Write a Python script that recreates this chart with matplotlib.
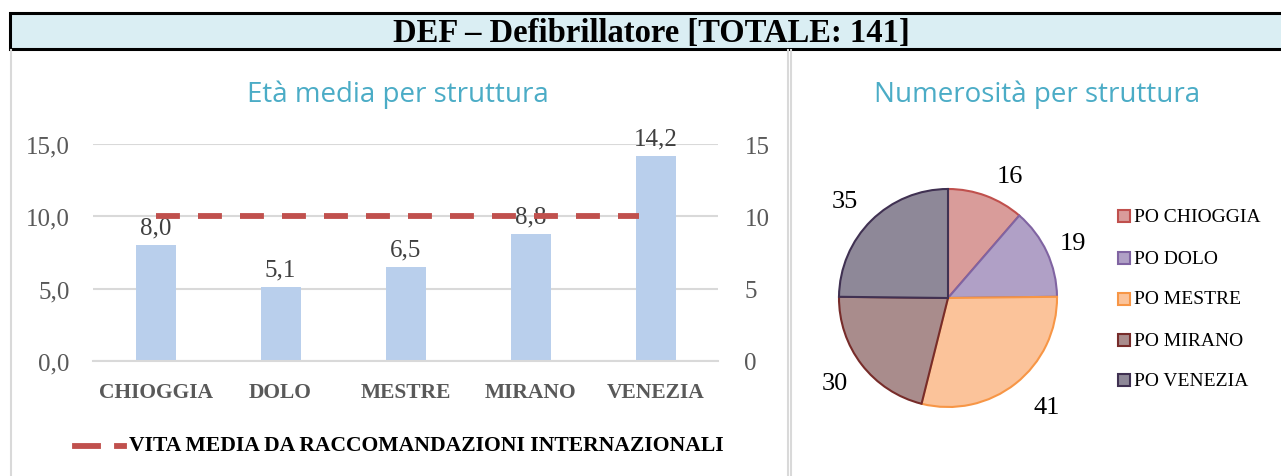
import matplotlib
matplotlib.use("Agg")
import matplotlib.pyplot as plt
from matplotlib.patches import Rectangle
from matplotlib.lines import Line2D

categories = ["CHIOGGIA", "DOLO", "MESTRE", "MIRANO", "VENEZIA"]
eta_media = [8.0, 5.1, 6.5, 8.8, 14.2]
vita_media = [10, 10, 10, 10, 10]
y_ticks_left = ["0,0", "5,0", "10,0", "15,0"]
y_ticks_right = ["0", "5", "10", "15"]

pie_labels = ["PO CHIOGGIA", "PO DOLO", "PO MESTRE", "PO MIRANO", "PO VENEZIA"]
pie_values = [16, 19, 41, 30, 35]
pie_face = ["#D99C9A", "#B0A0C6", "#FBC39A", "#A98C8C", "#8E8898"]
pie_edge = ["#C0504D", "#8064A2", "#F79646", "#772C2A", "#403152"]

W, H = 1281, 477
fig = plt.figure(figsize=(W / 100, H / 100), dpi=100)
plt.rcParams['font.family'] = ['Liberation Serif', 'DejaVu Serif']

def fx(px):
    return px / W

def fy(py):
    return 1 - py / H

# Title bar
fig.patches.append(Rectangle((fx(10), fy(50)), fx(1290), 36 / H, transform=fig.transFigure,
                             facecolor="#DAEEF3", edgecolor="black", linewidth=2.2, zorder=0))
fig.text(fx(651), fy(33), "DEF – Defibrillatore [TOTALE: 141]", ha="center", va="center",
         fontsize=23.5, fontweight="bold", color="black")
# panel borders
for xx in (11, 788, 791):
    fig.add_artist(Line2D([fx(xx), fx(xx)], [fy(51), 0], transform=fig.transFigure,
                          color="#D9D9D9", lw=1.5))

grey = "#595959"
title_col = "#4BACC6"

# Bar chart
ax = fig.add_axes([fx(93), fy(362), fx(718 - 93), (362 - 145) / H])
x = list(range(len(categories)))
ax.bar(x, eta_media, width=0.32, color="#B9CFEC", zorder=2)
ax.set_xlim(-0.5, 4.5)
ax.set_ylim(0, 15)
ax.set_yticks([0, 5, 10, 15])
ax.set_yticklabels(y_ticks_left)
ax.yaxis.grid(True, color="#D9D9D9", linewidth=1.5, zorder=0)
ax.set_axisbelow(True)
for s in ax.spines.values():
    s.set_visible(False)
ax.spines["bottom"].set_visible(True)
ax.spines["bottom"].set_color("#D9D9D9")
ax.spines["bottom"].set_linewidth(1.5)
ax.tick_params(axis="y", length=0, labelsize=18, labelcolor=grey, pad=17)
ax.tick_params(axis="x", length=0, labelsize=15.5, labelcolor=grey, pad=15)
ax.set_xticks(x)
ax.set_xticklabels(categories, fontweight="bold")
for xi, v in zip(x, eta_media):
    ax.text(xi, v + 0.45, f"{v:.1f}".replace(".", ","), ha="center", va="bottom",
            fontsize=18, color="#404040", zorder=4)

ax2 = ax.twinx()
ax2.plot(x[:-1] + [3.87], vita_media, color="#C0504D", linewidth=4.2, dashes=(4.1, 3.1), zorder=3)
ax2.set_ylim(0, 15)
ax2.set_yticks([0, 5, 10, 15])
ax2.set_yticklabels(y_ticks_right)
for s in ax2.spines.values():
    s.set_visible(False)
ax2.tick_params(axis="y", length=0, labelsize=18, labelcolor=grey, pad=19)

fig.text(fx(398), fy(95), "Età media per struttura", ha="center", va="center",
         fontsize=20, color=title_col, family=["Open Sans", "DejaVu Sans"])

# legend for line
fig.add_artist(Line2D([fx(75), fx(98)], [fy(447), fy(447)], transform=fig.transFigure,
                      color="#C0504D", lw=4.2))
fig.add_artist(Line2D([fx(117), fx(124)], [fy(447), fy(447)], transform=fig.transFigure,
                      color="#C0504D", lw=4.2))
fig.text(fx(129), fy(446), "VITA MEDIA DA RACCOMANDAZIONI INTERNAZIONALI", ha="left", va="center",
         fontsize=15.6, fontweight="bold", color="black")

# Pie chart
r = 109
axp = fig.add_axes([fx(948 - r), fy(299 + r), fx(2 * r), 2 * r / H])
wedges, _ = axp.pie(pie_values, startangle=90, counterclock=False, colors=pie_face,
                    wedgeprops=dict(linewidth=1.5))
for w, e in zip(wedges, pie_edge):
    w.set_edgecolor(e)
axp.set_xlim(-1.0, 1.0)
axp.set_ylim(-1.0, 1.0)
axp.set_aspect("equal")
for w in wedges:
    w.set_clip_on(False)
label_pos = [(1010, 177), (1073, 244), (1047, 408), (835, 384), (845, 202)]
for (px, py), v in zip(label_pos, pie_values):
    fig.text(fx(px), fy(py), str(v), ha="center", va="center", fontsize=19, color="black")

fig.text(fx(1037), fy(95), "Numerosità per struttura", ha="center", va="center",
         fontsize=20, color=title_col, family=["Open Sans", "DejaVu Sans"])

leg_y = [217, 259, 300, 341, 381]
for lab, yy, fc, ec in zip(pie_labels, leg_y, pie_face, pie_edge):
    fig.patches.append(Rectangle((fx(1118), fy(yy + 6)), fx(12), 12 / H, transform=fig.transFigure,
                                 facecolor=fc, edgecolor=ec, linewidth=1.5))
    fig.text(fx(1134), fy(yy), lab, ha="left", va="center", fontsize=14, color="black")

fig.savefig("out.png", dpi=100)
